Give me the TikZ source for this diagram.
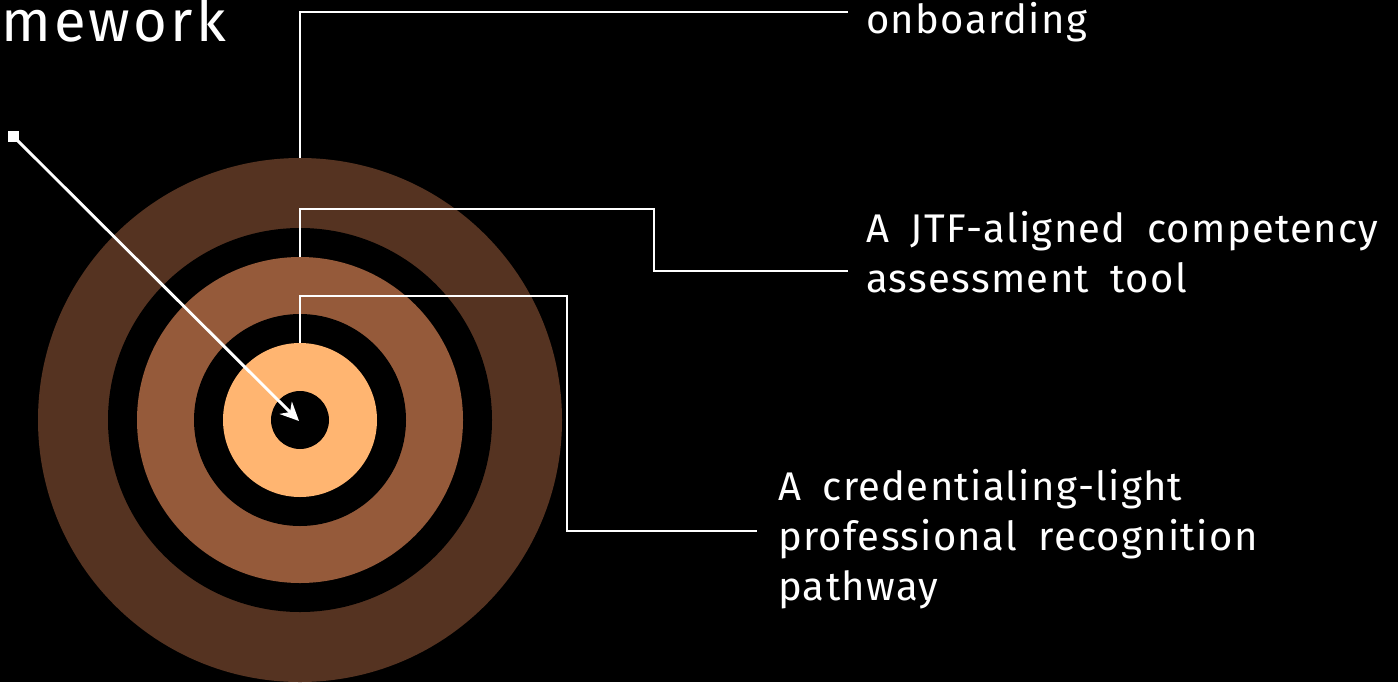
\documentclass[tikz,border=0pt]{standalone}
\usepackage{fontspec}
\setmainfont{Fira Sans}
\newfontfamily\lblfont[LetterSpace=3.3,WordSpace=1.8]{Fira Sans}
\newfontfamily\ttlfont[LetterSpace=5.5]{Fira Sans}
\usetikzlibrary{arrows.meta}
\definecolor{ringA}{HTML}{553321}
\definecolor{ringB}{HTML}{955A3A}
\definecolor{ringC}{HTML}{FFB571}
\tikzset{
  lbl/.style={anchor=base west, inner sep=0pt, text=white, font=\lblfont\fontsize{30}{37.3}\selectfont, align=left},
  conn/.style={draw=white, line width=1.5pt},
}
\begin{document}
\begin{tikzpicture}[x=0.75pt,y=-0.75pt]
\fill[black] (0,0) rectangle (1398,682);
\useasboundingbox (0,0) rectangle (1398,682);
% rings
\coordinate (ctr) at (300,420);
\fill[ringA] (ctr) circle [radius=262];
\fill[black] (ctr) circle [radius=192];
\fill[ringB] (ctr) circle [radius=163];
\fill[black] (ctr) circle [radius=106];
\fill[ringC] (ctr) circle [radius=77];
\fill[black] (ctr) circle [radius=29];
% title
\node[anchor=base west, inner sep=0pt, text=white, font=\ttlfont\fontsize{43.5}{50}\selectfont] (title) at (1,41) {mework};
% labels (base = last line)
\node[lbl] (l1) at (866,33) {onboarding};
\node[lbl] (l2) at (866,292) {A JTF-aligned competency\\assessment tool};
\node[lbl] (l3) at (778,600) {A credentialing-light\\professional recognition\\pathway};
% connector points
\coordinate (s1) at (300,158);
\coordinate (e1) at (848,12);
\coordinate (s2) at (300,257);
\coordinate (k2a) at (654,209);
\coordinate (e2) at (848,271);
\coordinate (s3) at (300,343);
\coordinate (k3a) at (567,296);
\coordinate (e3) at (757,531);
\draw[conn] (s1) |- (e1);
\draw[conn] (s2) |- (k2a) |- (e2);
\draw[conn] (s3) |- (k3a) |- (e3);
% pointer
\node[fill=white, minimum size=8.25pt, inner sep=0pt] (sq) at (13.5,136.5) {};
\coordinate (tip) at (299,421);
\draw[white, line width=2.2pt, -{Stealth[length=14pt,width=13pt,inset=4.5pt]}] (sq.center) -- (tip);
\end{tikzpicture}
\end{document}
